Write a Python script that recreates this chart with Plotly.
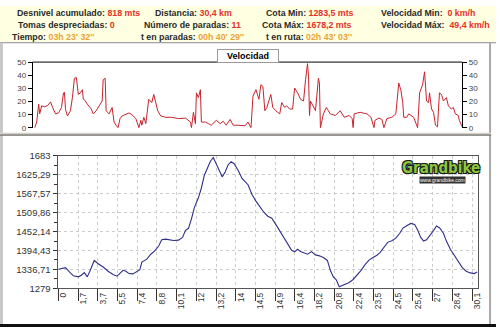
import plotly.graph_objects as go

W, H = 500, 332

# ---------------- data ----------------
# speed profile (sample index, km/h)
speed_idx = [2, 4, 6, 7, 9, 12, 15, 18, 20, 23, 26, 29, 31, 32, 33, 35, 38, 40, 42, 44, 46, 48, 50, 51, 53, 55,
             59, 61, 64, 67, 70, 71, 73, 74, 77, 80, 82, 84, 86, 88, 90, 97, 100, 104, 107, 109, 110, 112, 114,
             117, 120, 122, 124, 126, 129, 134, 140, 147, 154, 159, 160, 162, 164, 165, 167, 169, 170, 174, 177,
             180, 185, 189, 192, 195, 199, 202, 207, 214, 217, 220, 222, 225, 228, 230, 232, 234, 236, 240, 242,
             245, 249, 251, 254, 256, 259, 262, 264, 267, 270, 273, 275, 277, 278, 279, 280, 283, 285, 288, 289,
             290, 293, 296, 300, 305, 310, 314, 319, 322, 323, 324, 330, 337, 341, 344, 345, 349, 352, 354, 357,
             362, 366, 369, 371, 373, 374, 377, 379, 384, 388, 390, 393, 395, 397, 399, 400, 402, 404, 406, 408,
             410, 412, 414, 417, 419, 422, 424, 426, 429, 430, 433]
speed_kmh = [0, 4.4, 18, 10.6, 16.7, 16, 17, 19.7, 15.5, 10.6, 11.3, 15.5, 26.6, 27, 14, 9, 13, 23, 37.7, 38.2,
             25.4, 26.6, 29, 22, 20.4, 18, 14.3, 10.6, 13, 16.7, 20.4, 36.5, 37.7, 13, 10.6, 15.5, 4.4, 2, 0, 7,
             9, 11.3, 10, 7, 0, 5.7, 2, 8, 3.2, 21.7, 19.2, 25.4, 18, 13, 9, 8, 8, 7, 7.4, 4.4, 0, 11.8, 3.2,
             26.6, 23, 29, 4.4, 4.4, 3.2, 2, 5.7, 3.2, 5, 2, 6.4, 2, 2, 1.5, 4.4, 0, 24, 29, 21.7, 32.8, 31.5,
             13, 15.5, 25.4, 15.5, 13, 10.6, 19.2, 15.5, 16.7, 14.3, 14.3, 30.3, 26.6, 21.7, 20.4, 36.5, 48.8,
             39, 9.4, 20.4, 15.5, 13, 37.7, 34, 0, 10.6, 15.5, 10.6, 9.4, 13, 8, 9.4, 7, 0, 10.6, 11.8, 10.6, 8,
             0, 5.7, 7.4, 6.4, 0, 7, 8, 10.6, 34, 29, 19.2, 8, 8, 10.6, 8, 0, 26.6, 32.8, 42.6, 20.4, 19.2, 26.6,
             14.3, 11.8, 2, 0.7, 26.6, 25.4, 20.4, 23, 16.7, 14.3, 15.5, 10.6, 9.4, 5.7, 0.7]

# elevation profile (time position, m)
elev_pos = [0.00, 0.20, 0.35, 0.55, 0.75, 1.00, 1.15, 1.30, 1.45, 1.60, 1.80, 2.00, 2.25, 2.50, 2.75, 2.95,
            3.10, 3.25, 3.40, 3.55, 3.75, 3.95, 4.10, 4.20, 4.45, 4.65, 4.85, 5.05, 5.20, 5.40, 5.60, 5.80,
            6.05, 6.25, 6.40, 6.55, 6.70, 6.85, 7.05, 7.20, 7.35, 7.50, 7.65, 7.80, 7.95, 8.15, 8.25, 8.40,
            8.55, 8.70, 8.85, 9.05, 9.25, 9.55, 9.75, 9.95, 10.15, 10.35, 10.55, 10.75, 10.95, 11.15, 11.35,
            11.55, 11.75, 11.90, 12.05, 12.20, 12.40, 12.55, 12.75, 12.95, 13.15, 13.35, 13.55, 13.70, 13.85,
            14.00, 14.15, 14.30, 14.45, 14.65, 14.85, 15.05, 15.25, 15.45, 15.65, 15.85, 16.05, 16.20, 16.40,
            16.60, 16.80, 17.00, 17.20, 17.35, 17.55, 17.75, 17.95, 18.10, 18.25, 18.40, 18.55, 18.75, 18.90,
            19.05, 19.20, 19.40, 19.55, 19.75, 19.95, 20.15, 20.35, 20.55, 20.75, 20.95, 21.10]
elev_m = [1337, 1339, 1342, 1329, 1317, 1314, 1319, 1327, 1314, 1334, 1364, 1354, 1344, 1331, 1321, 1316,
          1326, 1334, 1331, 1324, 1323, 1329, 1336, 1359, 1368, 1383, 1393, 1408, 1427, 1429, 1427, 1425,
          1426, 1434, 1456, 1462, 1491, 1526, 1555, 1585, 1624, 1648, 1666, 1678, 1659, 1634, 1619, 1634,
          1656, 1665, 1659, 1639, 1614, 1595, 1565, 1545, 1526, 1511, 1499, 1493, 1474, 1454, 1437,
          1418, 1395, 1390, 1398, 1391, 1386, 1383, 1391, 1381, 1378, 1373, 1364, 1334, 1314,
          1305, 1284, 1288, 1290, 1297, 1306, 1319, 1334, 1351, 1365, 1373, 1380, 1388, 1403,
          1420, 1424, 1432, 1447, 1462, 1470, 1477, 1474, 1457, 1435, 1423, 1427, 1442, 1455,
          1469, 1464, 1447, 1423, 1398, 1378, 1359, 1342, 1331, 1326, 1324, 1329]

dist_labels = ["0", "1,7", "3,7", "5,5", "7,4", "8,8", "10,1", "12", "13,2", "14", "14,5", "14,9", "16,4",
               "18,2", "20,8", "22,4", "23,5", "24,5", "25,4", "27", "28,4", "30,1"]
elev_labels = ["1279", "1336,71", "1394,43", "1452,14", "1509,86", "1567,57", "1625,29", "1683"]
speed_ticks = [0, 10, 20, 30, 40, 50]

header = [
    # (x, y, anchor, label, value, kind)
    (15, 7.5, "left", "Desnivel acumulado:", "818 mts", "r"),
    (16, 19.5, "left", "Tomas despreciadas:", "0", "r"),
    (10, 32, "left", "Tiempo:", "03h 23' 32''", "o"),
    (195, 7.5, "center", "Distancia:", "30,4 km", "r"),
    (194, 19.5, "center", "Número de paradas:", "11", "r"),
    (194, 32, "center", "t en paradas:", "00h 40' 29''", "o"),
    (312, 7.5, "center", "Cota Min:", "1283,5 mts", "r"),
    (309, 19.5, "center", "Cota Máx:", "1678,2 mts", "r"),
    (311, 32, "center", "t en ruta:", "02h 43' 03''", "o"),
    (382, 7.5, "left", "Velocidad Min:", "&nbsp;0 km/h", "r"),
    (382, 19.5, "left", "Velocidad Máx:", "&nbsp;49,4 km/h", "r"),
]

# ---------------- helpers ----------------
def fx(p):
    return p / W


def fy(p):
    return 1 - p / H


RED = "#E4312B"
ORANGE = "#E9A33A"
FONT = "Arial, Liberation Sans, sans-serif"

elev_vals = [float(s.replace(",", ".")) for s in elev_labels]
minor_vals = [(a + b) / 2 for a, b in zip(elev_vals[:-1], elev_vals[1:])]
tick_step = 0.9925
dist_pos = [i * tick_step for i in range(len(dist_labels))]

fig = go.Figure()
fig.add_trace(go.Scatter(x=speed_idx, y=speed_kmh, mode="lines", line=dict(color="#C8232B", width=1),
                         xaxis="x", yaxis="y", hoverinfo="skip", showlegend=False))
fig.add_trace(go.Scatter(x=speed_idx, y=speed_kmh, mode="lines", line=dict(color="rgba(0,0,0,0)", width=0),
                         xaxis="x", yaxis="y2", hoverinfo="skip", showlegend=False))
fig.add_trace(go.Scatter(x=elev_pos, y=elev_m, mode="lines", line=dict(color="#2F2F8A", width=1.1),
                         xaxis="x2", yaxis="y3", hoverinfo="skip", showlegend=False))

sp_y_common = dict(range=[0, 50], tickvals=speed_ticks, ticks="outside", ticklen=4, tickcolor="#000",
                   showline=True, linecolor="#000", linewidth=1, showgrid=False, zeroline=False,
                   tickfont=dict(size=8, color="#444", family=FONT),
                   domain=[fy(126), fy(58)])

grid = dict(showgrid=True, gridcolor="#CCCCCC", griddash="3px,3px", gridwidth=1)

fig.update_layout(
    width=W, height=H, autosize=False,
    margin=dict(l=0, r=0, t=0, b=0),
    paper_bgcolor="#FFFFFF", plot_bgcolor="rgba(0,0,0,0)",
    font=dict(family=FONT),
    xaxis=dict(domain=[fx(33), fx(466)], range=[0, 433], showticklabels=False, ticks="",
               showline=False, showgrid=False, zeroline=False, anchor="y"),
    yaxis=dict(anchor="x", side="left", **sp_y_common),
    yaxis2=dict(anchor="x", side="right", overlaying="y", **sp_y_common),
    xaxis2=dict(domain=[fx(58), fx(482)], range=[-0.05, 21.15], anchor="y3",
                tickmode="array", tickvals=dist_pos, ticktext=dist_labels, tickangle=-90,
                ticks="outside", ticklen=12, tickcolor="#333", tickwidth=1,
                ticklabelshift=5, ticklabelstandoff=-12,
                tickfont=dict(size=8.5, color="#333", family=FONT),
                showline=True, mirror=True, linecolor="#555", linewidth=1, zeroline=False, **grid),
    yaxis3=dict(domain=[fy(292), fy(155)], range=[1279, 1683], anchor="x2",
                tickmode="array", tickvals=elev_vals, ticktext=elev_labels,
                ticks="outside", ticklen=4, tickcolor="#333",
                minor=dict(tickvals=minor_vals, ticks="outside", ticklen=3, tickcolor="#333", showgrid=False),
                tickfont=dict(size=9.5, color="#333", family=FONT),
                showline=True, mirror=True, linecolor="#555", linewidth=1, zeroline=False, **grid),
)

shapes = [
    # header background
    dict(type="rect", x0=0, x1=1, y0=fy(37), y1=1, fillcolor="#FFFFE1", line=dict(width=0)),
    dict(type="line", x0=0, x1=1, y0=fy(38), y1=fy(38), line=dict(color="#8A8A8A", width=1)),
    # side strips
    dict(type="rect", x0=0, x1=fx(3), y0=0, y1=fy(38), fillcolor="#C8C8C8", line=dict(width=0)),
    dict(type="rect", x0=fx(493), x1=fx(495), y0=fy(330), y1=fy(38), fillcolor="#A8A8A8", line=dict(width=0)),
    # panel separator
    dict(type="rect", x0=0, x1=fx(495), y0=fy(134), y1=fy(131), fillcolor="#D4D0C8", line=dict(width=0)),
    dict(type="line", x0=0, x1=fx(495), y0=fy(133.5), y1=fy(133.5), line=dict(color="#555", width=1)),
    # bottom line
    dict(type="rect", x0=0, x1=1, y0=0, y1=fy(329), fillcolor="#111111", line=dict(width=0)),
    # speed chart top frame line
    dict(type="line", xref="x domain", yref="y domain", x0=0, x1=1, y0=1, y1=1,
         line=dict(color="#000", width=1)),
]
for s in shapes:
    s.setdefault("xref", "paper")
    s.setdefault("yref", "paper")
    s["layer"] = "below" if s["xref"] == "paper" else "above"
fig.update_layout(shapes=shapes)

annotations = []
for (x, y, anchor, label, value, kind) in header:
    col = RED if kind == "r" else ORANGE
    annotations.append(dict(
        x=fx(x), y=fy(y), xref="paper", yref="paper", xanchor=anchor, yanchor="middle",
        showarrow=False, text=f"<b>{label} <span style='color:{col}'>{value}</span></b>",
        font=dict(size=8.8, color="#2A2A2A", family=FONT)))

annotations.append(dict(
    x=fx(250), y=fy(51.5), xref="paper", yref="paper", xanchor="center", yanchor="middle",
    showarrow=False, text="<b>Velocidad</b>", font=dict(size=9, color="#000", family=FONT),
    bgcolor="#FFFFFF", bordercolor="#9A9A9A", borderwidth=1, borderpad=1, width=58, height=10))

annotations.append(dict(
    x=fx(445), y=fy(168), xref="paper", yref="paper", xanchor="center", yanchor="middle",
    showarrow=False, text="<b>Grandbike</b>",
    font=dict(size=15, color="#8CC63F", family="Liberation Sans Narrow, DejaVu Sans Condensed, Arial, sans-serif",
              shadow="1px 1px 0 #1A1A1A, -1px -1px 0 #1A1A1A, 1px -1px 0 #1A1A1A, -1px 1px 0 #1A1A1A")))
annotations.append(dict(
    x=fx(446), y=fy(180), xref="paper", yref="paper", xanchor="center", yanchor="middle",
    showarrow=False, text="www.grandbike.com", font=dict(size=5, color="#FFFFFF", family=FONT),
    bgcolor="#333333", borderpad=0))

fig.update_layout(annotations=annotations)

fig.write_html("out.html")
